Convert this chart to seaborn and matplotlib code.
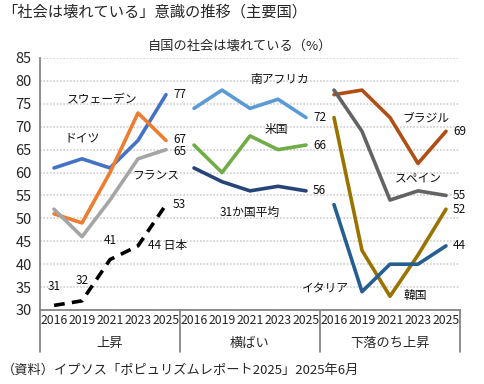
import matplotlib
matplotlib.use('Agg')
import matplotlib.pyplot as plt
import seaborn as sns
import numpy as np

sns.set_style('white')
plt.rcParams['font.family'] = ['Noto Sans CJK JP', 'DejaVu Sans']

years = ['2016', '2019', '2021', '2023', '2025']
groups = ['上昇', '横ばい', '下落のち上昇']

# 上昇
sweden = [61, 63, 61, 67, 77]
germany = [51, 49, 60, 73, 67]
france = [52, 46, 54, 63, 65]
japan = [31, 32, 41, 44, 53]
# 横ばい
south_africa = [74, 78, 74, 76, 72]
usa = [66, 60, 68, 65, 66]
avg31 = [61, 58, 56, 57, 56]
# 下落のち上昇
brazil = [77, 78, 72, 62, 69]
spain = [78, 69, 54, 56, 55]
korea = [72, 43, 33, 42, 52]
italy = [53, 34, 40, 40, 44]

# (values, group index, color, dashed)
series = [
    (sweden, 0, '#4472C4', False),
    (germany, 0, '#ED7D31', False),
    (france, 0, '#A5A5A5', False),
    (japan, 0, '#000000', True),
    (south_africa, 1, '#5B9BD5', False),
    (usa, 1, '#70AD47', False),
    (avg31, 1, '#264478', False),
    (brazil, 2, '#B04E15', False),
    (spain, 2, '#636363', False),
    (korea, 2, '#997300', False),
    (italy, 2, '#255E91', False),
]

fig = plt.figure(figsize=(4.84, 3.84), dpi=100)
ax = fig.add_axes([40 / 484, 1 - 310 / 384, 420 / 484, 252 / 384])

n = len(years)
for vals, g, col, dashed in series:
    xs = np.arange(n) + g * n
    sns.lineplot(x=xs, y=vals, ax=ax, color=col, linewidth=2.6,
                 linestyle=(0, (3, 2)) if dashed else '-', legend=False)

# value labels at the last point (and Japan's 2016-2023 points)
lab_kw = dict(fontsize=8.5, color='#111111', va='center')
for vals, g, col, dashed in series:
    x_last = g * n + n - 1
    ax.text(x_last + 0.25, vals[-1], str(vals[-1]), ha='left', **lab_kw)
ax.texts[1].set_y(germany[-1] + 0.3)
ax.texts[2].set_y(france[-1] - 0.3)
ax.text(0, japan[0] + 4.1, str(japan[0]), ha='center', **lab_kw)
ax.text(1, japan[1] + 4.4, str(japan[1]), ha='center', **lab_kw)
ax.text(2, japan[2] + 4.2, str(japan[2]), ha='center', **lab_kw)
ax.text(3.36, japan[3], str(japan[3]) + ' 日本', ha='left', **lab_kw)

# series names
name_kw = dict(fontsize=8.5, color='#111111', va='center', ha='center')
ax.text(1.73, 75.9, 'スウェーデン', **name_kw)
ax.text(1.0, 67.5, 'ドイツ', **name_kw)
ax.text(3.64, 59.2, 'フランス', **name_kw)
ax.text(8.05, 80.2, '南アフリカ', **name_kw)
ax.text(7.95, 69.5, '米国', **name_kw)
ax.text(6.98, 51.3, '31か国平均', **name_kw)
ax.text(13.3, 71.9, 'ブラジル', **name_kw)
ax.text(13.0, 58.8, 'スペイン', **name_kw)
ax.text(12.9, 33.2, '韓国', **name_kw)
ax.text(9.68, 34.5, 'イタリア', **name_kw)

ax.set_xlim(-0.5, 3 * n - 0.5)
ax.set_ylim(30, 85)
ax.set_yticks(range(30, 86, 5))
ax.set_xticks(range(3 * n))
ax.set_xticklabels(years * 3, fontsize=8.8)
ax.set_xticks(np.arange(0.5, 3 * n - 1, 1.0), minor=True)
ax.tick_params(axis='x', which='major', length=0, pad=3)
ax.tick_params(axis='x', which='minor', length=6, color='#868686', width=1.2)
ax.tick_params(axis='y', length=4, color='#868686', width=1.2, labelsize=10.5, pad=2)

ax.yaxis.grid(True, color='#D0D0D0', linestyle=(0, (1, 1)), linewidth=1.2)
ax.set_axisbelow(True)
for s in ['top', 'right']:
    ax.spines[s].set_visible(False)
for s in ['left', 'bottom']:
    ax.spines[s].set_color('#868686')
    ax.spines[s].set_linewidth(1.3)

# group separators and names under the axis
trans = ax.get_xaxis_transform()
for b in np.arange(-0.5, 3 * n, n):
    ax.plot([b, b], [0, -0.167], transform=trans, clip_on=False,
            color='#868686', linewidth=1.3)
for i, gname in enumerate(groups):
    ax.text(i * n + (n - 1) / 2, -0.131, gname, transform=trans,
            ha='center', va='center', fontsize=9.5)

fig.text(2 / 484, 1 - 12 / 384, '「社会は壊れている」意識の推移（主要国）',
         fontsize=11, ha='left', va='center')
fig.text(240 / 484, 1 - 46 / 384, '自国の社会は壊れている（%）',
         fontsize=9.5, ha='center', va='center')
fig.text(2 / 484, 1 - 370 / 384, '（資料）イプソス「ポピュリズムレポート2025」2025年6月',
         fontsize=9.5, ha='left', va='center')

fig.savefig('out.png', dpi=100)
